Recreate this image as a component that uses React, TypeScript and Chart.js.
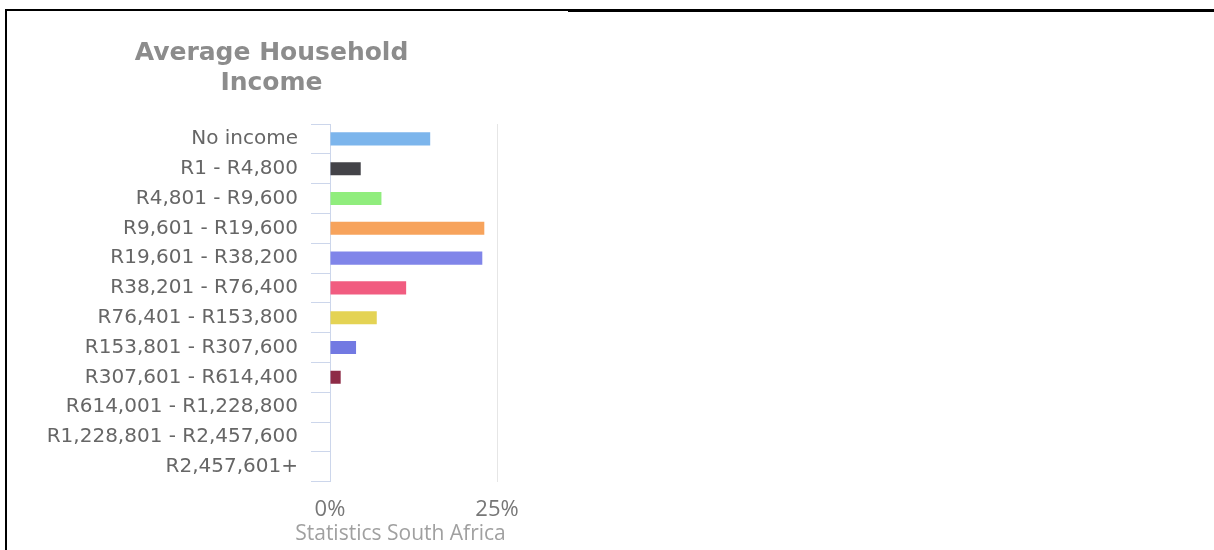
import React, { useEffect, useRef } from "react";
import { Chart, registerables } from "chart.js";

Chart.register(...registerables);

const categories = [
  "No income",
  "R1 - R4,800",
  "R4,801 - R9,600",
  "R9,601 - R19,600",
  "R19,601 - R38,200",
  "R38,201 - R76,400",
  "R76,401 - R153,800",
  "R153,801 - R307,600",
  "R307,601 - R614,400",
  "R614,001 - R1,228,800",
  "R1,228,801 - R2,457,600",
  "R2,457,601+",
];

const shares = [15.0, 4.6, 7.7, 23.1, 22.8, 11.4, 7.0, 3.9, 1.6, 0, 0, 0];

const barColors = [
  "#7cb5ec",
  "#434348",
  "#90ed7d",
  "#f7a35c",
  "#8085e9",
  "#f15c80",
  "#e4d354",
  "#7279e2",
  "#8e2b47",
  "#2b908f",
  "#f45b5b",
  "#91e8e1",
];

const titleLines = ["Average Household", "Income"];
const axisTitle = "Statistics South Africa";
const xMin = 0;
const xMax = 25;
const xStep = 25;

const LABEL_FONT_SIZE = 20;
const LABEL_FONT_FAMILY = "DejaVu Sans";
const Y_TICK_PADDING = 13;
const Y_TICK_LENGTH = 19;

// Axis title drawn below the x ticks (wider than the plot, so not squeezed into it)
const axisTitlePlugin = {
  id: "axisTitleBelow",
  afterDraw(chart: any) {
    const { ctx, chartArea } = chart;
    ctx.save();
    ctx.font = '21px "Open Sans"';
    ctx.fillStyle = "#a0a0a0";
    ctx.textAlign = "center";
    ctx.textBaseline = "alphabetic";
    ctx.fillText(axisTitle, (chartArea.left + chartArea.right) / 2 - 13, chartArea.bottom + 58);
    ctx.restore();
  },
};

export default function App() {
  const canvasRef = useRef<HTMLCanvasElement | null>(null);

  useEffect(() => {
    document.body.style.margin = "0";
    const canvas = canvasRef.current;
    if (!canvas) return;
    const chart = new Chart(canvas, {
      type: "bar",
      data: {
        labels: categories,
        datasets: [
          {
            data: shares,
            backgroundColor: barColors,
            borderWidth: 0,
            barPercentage: 0.44,
            categoryPercentage: 1,
          },
        ],
      },
      options: {
        indexAxis: "y",
        responsive: false,
        animation: false,
        devicePixelRatio: 1,
        layout: { padding: { left: 38, right: 39, top: 0, bottom: 12 } },
        plugins: {
          legend: { display: false },
          tooltip: { enabled: false },
          title: {
            display: true,
            text: titleLines,
            color: "#8c8c8c",
            font: { family: "DejaVu Sans", size: 25, weight: "bold", lineHeight: 1.2 },
            padding: { top: 26, bottom: 26 },
          },
        },
        scales: {
          x: {
            min: xMin,
            max: xMax,
            ticks: {
              stepSize: xStep,
              padding: 15,
              maxRotation: 0,
              color: "#777777",
              font: { family: "Open Sans", size: 22, lineHeight: 1.2 },
              callback: (v: any) => `${v}%`,
            },
            grid: {
              color: "#e6e6e6",
              lineWidth: 1,
              drawTicks: false,
            },
            border: { display: false },
          },
          y: {
            afterFit: (scale: any) => {
              const ctx = scale.ctx as CanvasRenderingContext2D;
              ctx.save();
              ctx.font = `${LABEL_FONT_SIZE}px ${LABEL_FONT_FAMILY}`;
              const widest = Math.max(...categories.map((c) => ctx.measureText(c).width));
              ctx.restore();
              scale.width = Math.ceil(widest) + Y_TICK_PADDING + Y_TICK_LENGTH;
            },
            ticks: {
              padding: Y_TICK_PADDING,
              color: "#666666",
              font: { family: LABEL_FONT_FAMILY, size: LABEL_FONT_SIZE, lineHeight: 1.2 },
            },
            grid: {
              offset: true,
              drawOnChartArea: false,
              drawTicks: true,
              tickLength: Y_TICK_LENGTH,
              color: "#ccd6eb",
            },
            border: { display: true, color: "#ccd6eb", width: 1 },
          },
        },
      },
      plugins: [axisTitlePlugin],
    });
    return () => chart.destroy();
  }, []);

  return (
    <div style={{ position: "fixed", left: 0, top: 0, width: 1214, height: 550, background: "#ffffff", overflow: "hidden" }}>
      <div style={{ position: "absolute", left: 5, top: 9, width: 1209, height: 2, background: "#000" }} />
      <div style={{ position: "absolute", left: 568, top: 9, width: 646, height: 3, background: "#000" }} />
      <div style={{ position: "absolute", left: 5, top: 9, width: 2, height: 541, background: "#000" }} />
      <canvas
        ref={canvasRef}
        width={528}
        height={538}
        style={{ position: "absolute", left: 8, top: 12, width: 528, height: 538 }}
      />
    </div>
  );
}
